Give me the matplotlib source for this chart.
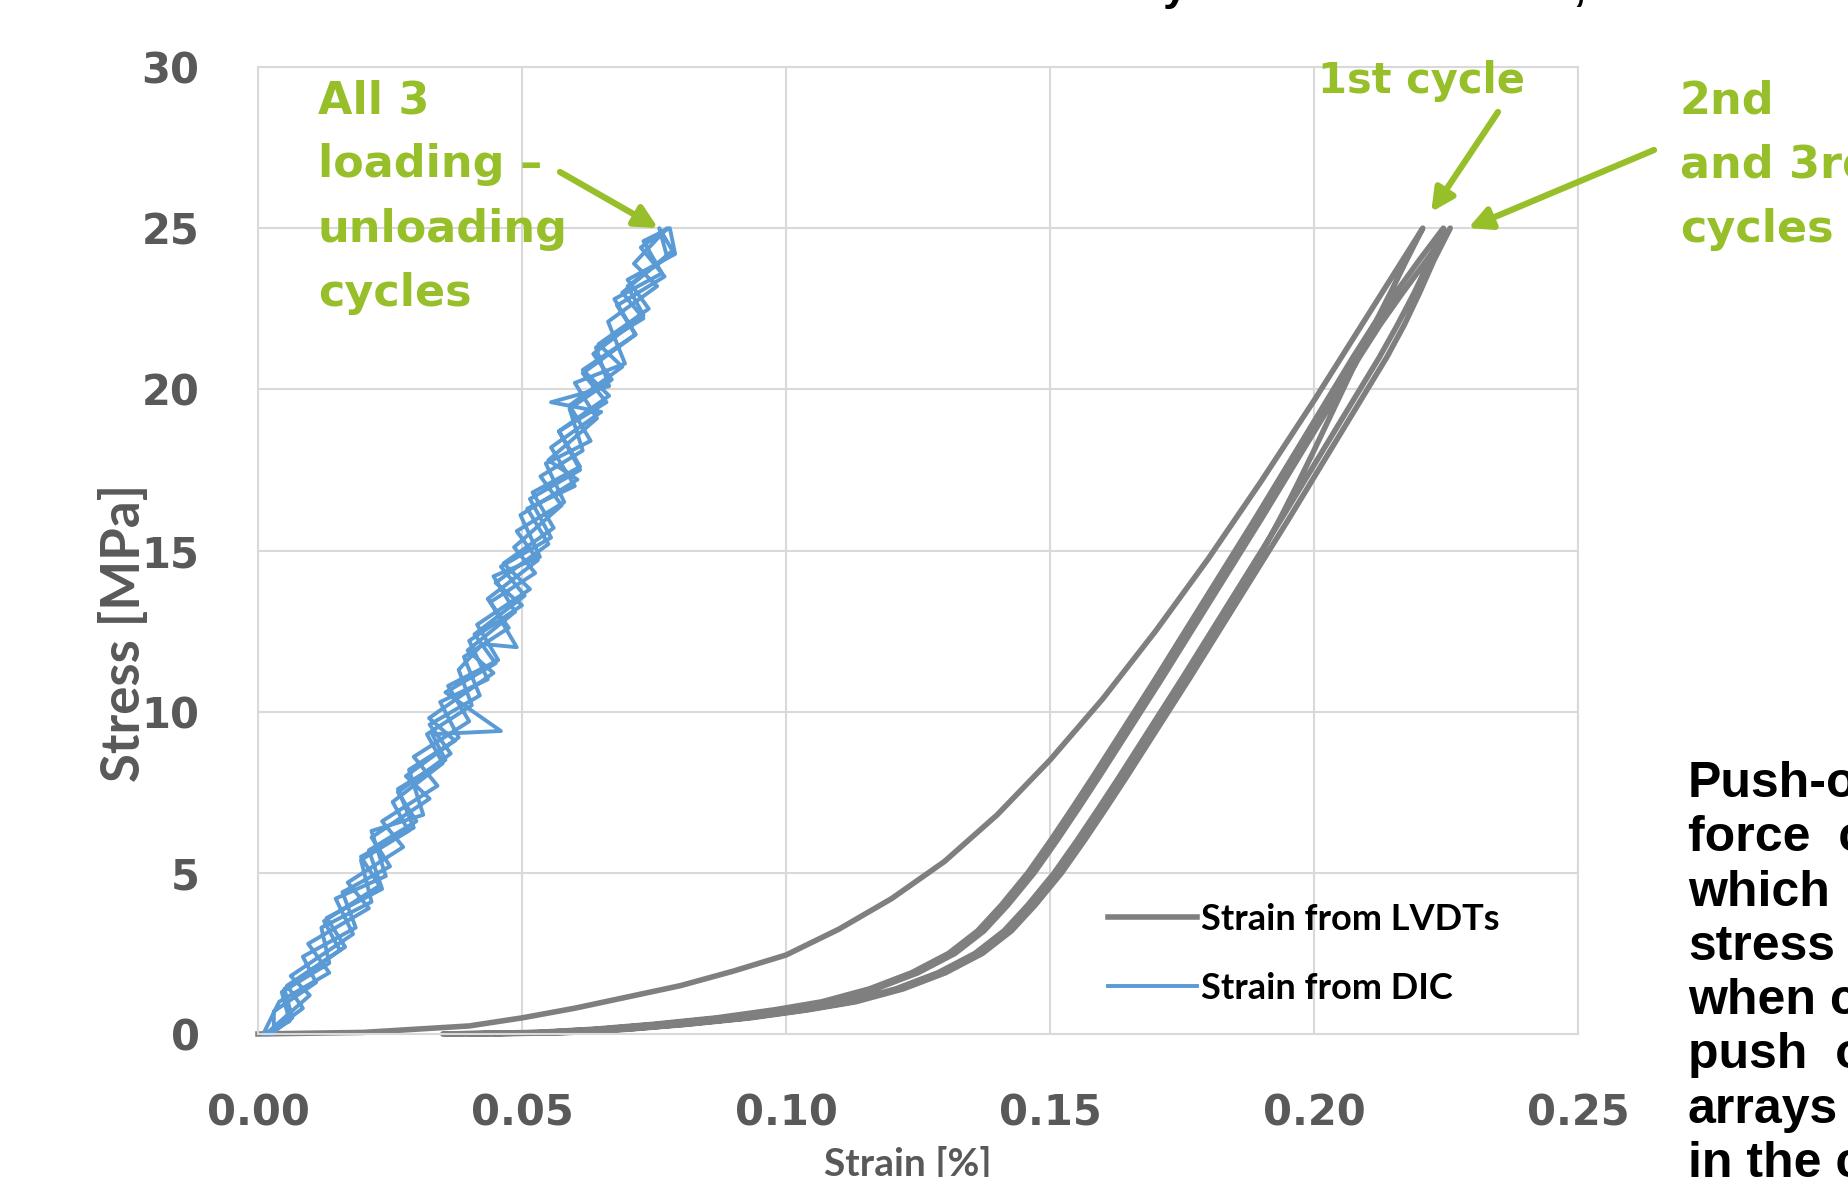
import matplotlib
matplotlib.use('Agg')
from matplotlib import pyplot as plt

# LVDT: strain [%] vs stress [MPa]
# 1st cycle loading curve
lvdt_load1_strain = [0, 0.02, 0.04, 0.05, 0.06, 0.07, 0.08, 0.09, 0.10, 0.11, 0.12, 0.13, 0.14, 0.15, 0.16,
                     0.17, 0.18, 0.19, 0.20, 0.21, 0.2206]
lvdt_load1_stress = [0, 0.05, 0.25, 0.5, 0.8, 1.15, 1.5, 1.95, 2.45, 3.25, 4.2, 5.35, 6.8, 8.5, 10.4,
                     12.5, 14.75, 17.15, 19.65, 22.25, 25.0]
# the other five branches share these stress levels (ascending)
lvdt_levels = [0, 0.05, 0.15, 0.3, 0.5, 0.75, 1.0, 1.4, 1.9, 2.5, 3.2, 4.0, 5.0, 6, 7, 8, 9, 10, 11, 12, 13,
               14, 15, 16, 17, 18, 19, 20, 21, 22, 23, 24, 25]
lvdt_unload1 = [0.0350, 0.0585, 0.0695, 0.0805, 0.0925, 0.1035, 0.1125, 0.1215, 0.1295, 0.1365, 0.1420, 0.1465,
                0.1515, 0.1558, 0.1599, 0.1639, 0.1678, 0.1717, 0.1756, 0.1794, 0.1832, 0.1868, 0.1903, 0.1936,
                0.1967, 0.1997, 0.2026, 0.2055, 0.2084, 0.2114, 0.2145, 0.2175, 0.2206]
lvdt_load2 = [0.0350, 0.0528, 0.0638, 0.0748, 0.0868, 0.0978, 0.1068, 0.1158, 0.1238, 0.1308, 0.1363, 0.1408,
              0.1458, 0.1501, 0.1542, 0.1582, 0.1621, 0.1660, 0.1699, 0.1737, 0.1775, 0.1813, 0.1851, 0.1889,
              0.1926, 0.1963, 0.2000, 0.2037, 0.2074, 0.2113, 0.2155, 0.2199, 0.2245]
lvdt_unload2 = [0.0400, 0.0578, 0.0688, 0.0798, 0.0918, 0.1028, 0.1118, 0.1208, 0.1288, 0.1358, 0.1413, 0.1458,
                0.1508, 0.1551, 0.1592, 0.1632, 0.1671, 0.1710, 0.1749, 0.1787, 0.1825, 0.1863, 0.1901, 0.1939,
                0.1976, 0.2013, 0.2050, 0.2087, 0.2124, 0.2158, 0.2190, 0.2219, 0.2245]
lvdt_load3 = [0.0400, 0.0540, 0.0650, 0.0760, 0.0880, 0.0990, 0.1080, 0.1170, 0.1250, 0.1320, 0.1375, 0.1420,
              0.1470, 0.1513, 0.1554, 0.1594, 0.1633, 0.1672, 0.1711, 0.1749, 0.1787, 0.1825, 0.1863, 0.1901,
              0.1938, 0.1975, 0.2012, 0.2049, 0.2086, 0.2125, 0.2168, 0.2213, 0.2258]
lvdt_unload3 = [0.0450, 0.0592, 0.0702, 0.0812, 0.0932, 0.1042, 0.1132, 0.1222, 0.1302, 0.1372, 0.1427, 0.1472,
                0.1522, 0.1565, 0.1606, 0.1646, 0.1685, 0.1724, 0.1763, 0.1801, 0.1839, 0.1877, 0.1915, 0.1953,
                0.1990, 0.2027, 0.2064, 0.2101, 0.2138, 0.2171, 0.2200, 0.2227, 0.2258]

# DIC: strain [%] vs stress [MPa], noisy readings, three loading-unloading cycles
dic_c1_strain = [0.0015, 0.0098, 0.0062, 0.0180, 0.0147, 0.0242, 0.0215, 0.0313, 0.0286, 0.0373, 0.0324, 0.0446,
                 0.0397, 0.0487, 0.0446, 0.0534, 0.0497, 0.0605, 0.0550, 0.0642, 0.0600, 0.0695, 0.0663, 0.0756,
                 0.0712, 0.0775,
                 0.0725, 0.0770, 0.0680, 0.0715, 0.0615, 0.0660, 0.0570, 0.0610, 0.0515, 0.0555, 0.0460, 0.0505,
                 0.0410, 0.0450, 0.0355, 0.0460, 0.0330, 0.0355, 0.0265, 0.0295, 0.0195, 0.0230, 0.0125, 0.0155,
                 0.0050, 0.0065, 0.0025]
dic_c1_stress = [0, 1.2, 1.8, 3.1, 4.2, 4.9, 6.3, 6.8, 8.2, 9.1, 9.8, 11.2,
                 11.9, 13.1, 14.2, 14.8, 16.1, 17.2, 17.8, 19.1, 20.2, 20.8, 22.1, 23.2,
                 23.9, 25.0,
                 24.4, 23.5, 22.6, 21.7, 20.5, 19.6, 18.7, 17.5, 16.6, 15.4, 14.5, 13.6,
                 12.4, 11.5, 10.6, 9.4, 9.3, 8.5, 7.6, 6.4, 5.5, 4.6, 3.5, 2.6,
                 1.4, 0.5, 0]
dic_c2_strain = [0.0030, 0.0030, 0.0110, 0.0085, 0.0185, 0.0160, 0.0250, 0.0215, 0.0325, 0.0280, 0.0380, 0.0345,
                 0.0435, 0.0400, 0.0500, 0.0450, 0.0550, 0.0510, 0.0600, 0.0555, 0.0650, 0.0555, 0.0665, 0.0640,
                 0.0730, 0.0690, 0.0785, 0.0760,
                 0.0775, 0.0700, 0.0730, 0.0635, 0.0670, 0.0590, 0.0615, 0.0535, 0.0575, 0.0485, 0.0525, 0.0440,
                 0.0490, 0.0425, 0.0380, 0.0405, 0.0320, 0.0350, 0.0255, 0.0285, 0.0195, 0.0215, 0.0120, 0.0135,
                 0.0045, 0.0060, 0.0015]
dic_c2_stress = [0, 0.7, 1.6, 2.4, 3.3, 4.4, 5.2, 6.1, 7.3, 8.0, 9.2, 10.3,
                 11.0, 12.2, 13.3, 14.0, 15.2, 16.3, 17.0, 18.2, 19.3, 19.6, 20.1, 21.3,
                 22.2, 23.0, 24.3, 25.0,
                 24.1, 23.2, 22.3, 21.1, 20.3, 19.4, 18.1, 17.3, 16.4, 15.1, 14.3, 13.4,
                 12.0, 12.1, 11.3, 10.2, 9.3, 8.4, 7.2, 6.3, 5.4, 4.1, 3.3, 2.2,
                 1.3, 0.4, 0]
dic_c3_strain = [0.0010, 0.0040, 0.0135, 0.0095, 0.0210, 0.0170, 0.0275, 0.0235, 0.0340, 0.0295, 0.0400, 0.0360,
                 0.0455, 0.0415, 0.0515, 0.0465, 0.0560, 0.0520, 0.0610, 0.0570, 0.0665, 0.0615, 0.0715, 0.0675,
                 0.0765, 0.0730, 0.0780,
                 0.0790, 0.0700, 0.0740, 0.0645, 0.0690, 0.0590, 0.0630, 0.0545, 0.0580, 0.0490, 0.0530, 0.0435,
                 0.0475, 0.0390, 0.0420, 0.0325, 0.0365, 0.0265, 0.0300, 0.0210, 0.0235, 0.0130, 0.0165, 0.0055,
                 0.0085, 0.0020]
dic_c3_stress = [0, 1.0, 1.9, 2.8, 3.9, 4.7, 5.8, 6.6, 7.7, 8.6, 9.7, 10.8,
                 11.6, 12.7, 13.8, 14.6, 15.7, 16.8, 17.6, 18.7, 19.8, 20.6, 21.7, 22.8,
                 23.6, 24.6, 25.0,
                 24.2, 23.4, 22.5, 21.4, 20.7, 19.5, 18.4, 17.7, 16.5, 15.6, 14.7, 13.5,
                 12.6, 11.7, 10.5, 9.6, 8.7, 7.5, 6.6, 5.7, 4.5, 3.6, 2.7, 1.5,
                 0.8, 0]

x_ticks = [0.00, 0.05, 0.10, 0.15, 0.20, 0.25]
x_tick_labels = ['0.00', '0.05', '0.10', '0.15', '0.20', '0.25']
y_ticks = [0, 5, 10, 15, 20, 25, 30]

GREEN = '#97BF2A'
GRAY_TEXT = '#595959'
W, H = 1849, 1177

down = lvdt_levels[::-1]
lvdt_strain = (lvdt_load1_strain + lvdt_unload1[::-1] + lvdt_load2 + lvdt_unload2[::-1]
               + lvdt_load3 + lvdt_unload3[::-1])
lvdt_stress = lvdt_load1_stress + down + lvdt_levels + down + lvdt_levels + down

fig = plt.figure(figsize=(W / 100, H / 100), dpi=100)
ax = fig.add_axes([258 / W, 1 - 1034 / H, 1320 / W, 967 / H])

ax.plot(lvdt_strain, lvdt_stress, color='#7F7F7F', lw=4, solid_joinstyle='round', clip_on=False,
        label='Strain from LVDTs')
ax.plot(dic_c1_strain + dic_c2_strain + dic_c3_strain,
        dic_c1_stress + dic_c2_stress + dic_c3_stress,
        color='#5B9BD5', lw=2.8, clip_on=False, label='Strain from DIC')

ax.set_xlim(0, 0.25)
ax.set_ylim(0, 30)
ax.set_xticks(x_ticks)
ax.set_xticklabels(x_tick_labels)
ax.set_yticks(y_ticks)
ax.grid(color='#D9D9D9', lw=1.5)
ax.set_axisbelow(True)
for spine in ax.spines.values():
    spine.set_color('#D9D9D9')
    spine.set_linewidth(1.5)
ax.tick_params(length=0, labelcolor=GRAY_TEXT, labelsize=30)
ax.tick_params(axis='x', pad=42)
ax.tick_params(axis='y', pad=42)
for lab in ax.get_xticklabels() + ax.get_yticklabels():
    lab.set_fontweight('bold')
    lab.set_fontfamily('DejaVu Sans')

ax.set_xlabel('Strain [%]', family='Lato', weight='bold', size=28, color=GRAY_TEXT, va='center')
ax.xaxis.set_label_coords(0.4924, -0.1344)
ax.set_ylabel('Stress [MPa]', family='Lato', weight='bold', size=38, color=GRAY_TEXT, va='center')
ax.yaxis.set_label_coords(-0.1015, 0.4147)

ax.legend(loc='center left', bbox_to_anchor=(1108 / W, 1 - 954 / H), bbox_transform=fig.transFigure,
          frameon=False, borderpad=0, borderaxespad=0, handlelength=2.47, handletextpad=0.1,
          labelspacing=1.0, prop={'family': 'Lato', 'weight': 'bold', 'size': 26})

# green callouts
fig.text(318 / W, 1 - 79 / H, 'All 3\nloading –\nunloading\ncycles', color=GREEN, family='DejaVu Sans',
         weight='bold', size=32, va='top', ha='left', linespacing=1.63)
fig.text(1422 / W, 1 - 93 / H, '1st cycle', color=GREEN, family='DejaVu Sans',
         weight='bold', size=30, va='baseline', ha='center')
fig.text(1680 / W, 1 - 79 / H, '2nd\nand 3rd\ncycles', color=GREEN, family='DejaVu Sans',
         weight='bold', size=32, va='top', ha='left', linespacing=1.63)

arrow = dict(arrowstyle='-|>', color=GREEN, lw=4.5, mutation_scale=34, shrinkA=0, shrinkB=0)
ax.annotate('', xy=(0.0758, 25.0), xytext=(560, H - 172), textcoords='figure pixels',
            arrowprops=arrow, annotation_clip=False)
ax.annotate('', xy=(0.2222, 25.5), xytext=(1498, H - 112), textcoords='figure pixels',
            arrowprops=arrow, annotation_clip=False)
ax.annotate('', xy=(0.2292, 25.0), xytext=(1654, H - 150), textcoords='figure pixels',
            arrowprops=arrow, annotation_clip=False)

# cropped slide text around the chart
fig.text(446 / W, 1.0, 'Stress–strain behaviour in three cycles to the 25 MPa, LVDT vs DIC',
         family='Liberation Sans', weight='bold', size=32, va='baseline', ha='left')
fig.text(1688 / W, 1 - 761 / H,
         'Push-out\nforce  curves\nwhich\nstress\nwhen compared\npush  out\narrays\nin the case',
         family='Liberation Sans', weight='bold', size=36, va='top', ha='left', linespacing=1.23)

plt.savefig('out.png', dpi=100)
